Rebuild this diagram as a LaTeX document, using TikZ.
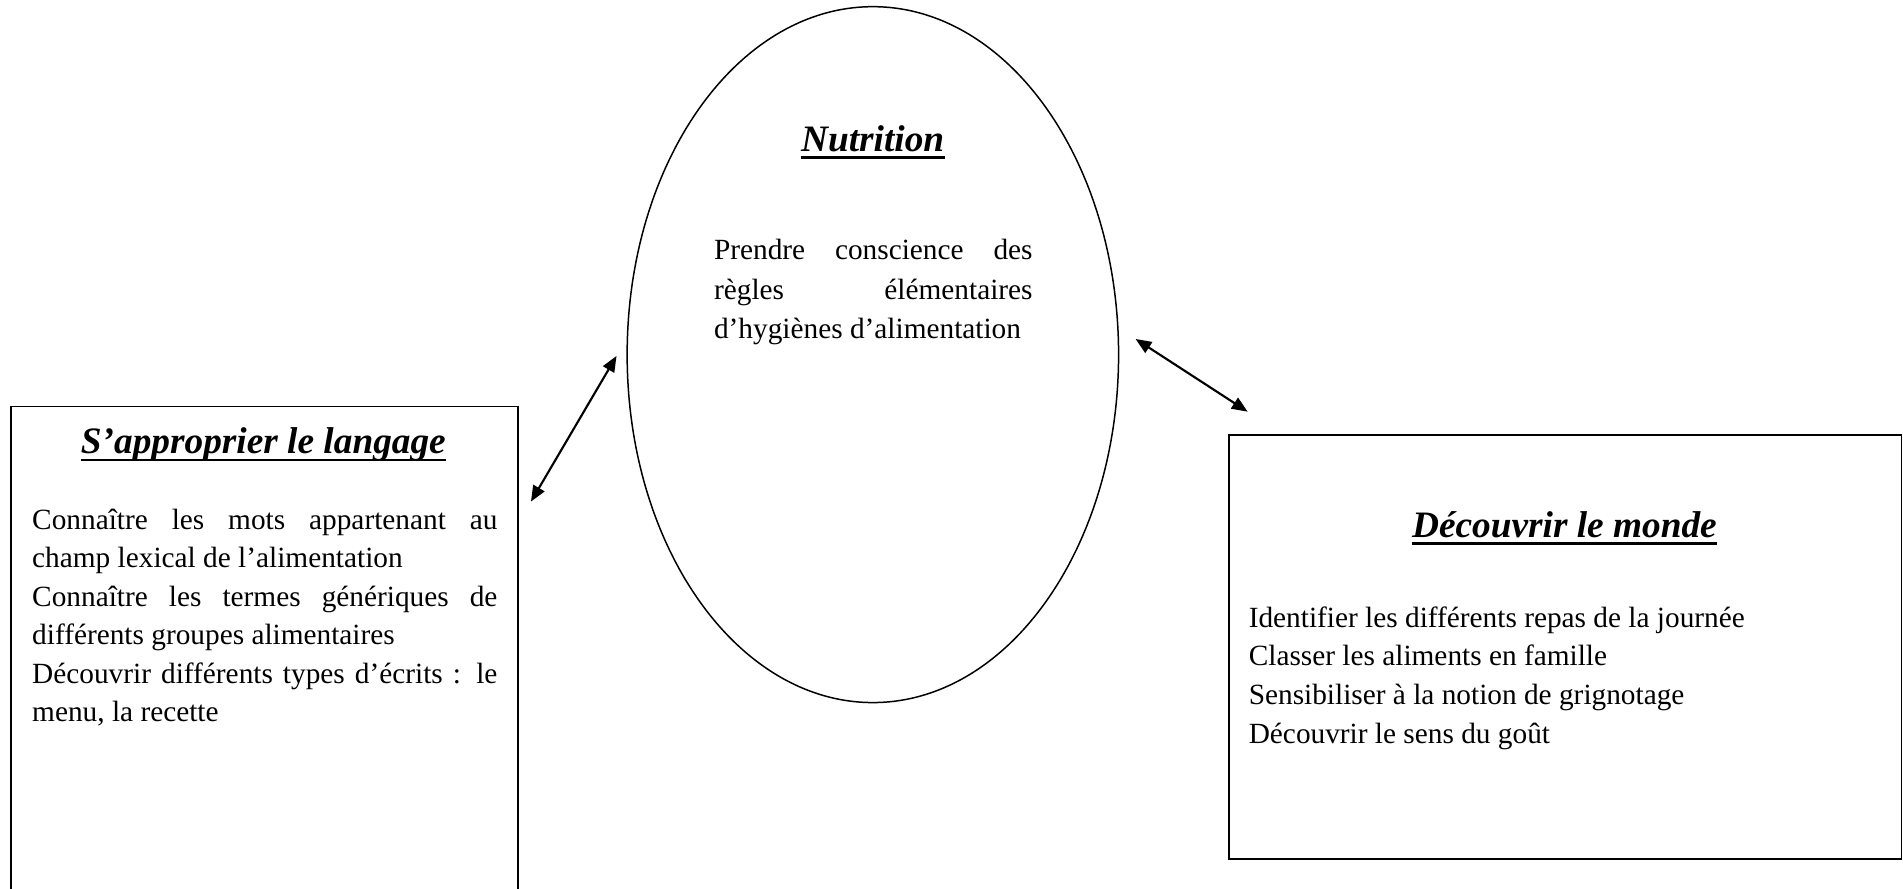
\documentclass[tikz,border=0pt]{standalone}
\usepackage{fontspec}
\setmainfont{Liberation Serif}
\usetikzlibrary{shapes.geometric,arrows.meta}
\tikzset{
  frame/.style={draw, line width=0.7pt, rectangle, inner sep=0pt},
  oval/.style={draw, line width=0.7pt, ellipse, inner sep=0pt},
  titletext/.style={inner sep=0pt, anchor=base, font=\fontsize{17.5pt}{21pt}\selectfont\bfseries\itshape},
  bodytext/.style={inner sep=0pt, anchor=base west, font=\fontsize{13.75pt}{18pt}\selectfont},
  ul/.style={line width=1.25pt},
  dbl/.style={line width=1pt, {Triangle[length=0.26cm,width=0.21cm]}-{Triangle[length=0.26cm,width=0.21cm]}}
}
\newcommand{\justline}[2]{\makebox[#1][s]{#2}}
\begin{document}
\begin{tikzpicture}[x=0.02cm,y=-0.02cm]
\useasboundingbox (0,0) rectangle (1568,731.7);
\fill[white] (0,0) rectangle (1568,731.7);
\clip (0,0) rectangle (1568,731.7);

% shapes
\node[frame, minimum width=8.358cm, minimum height=8.5cm] (lbox) at (218.05,547.5) {};
\node[oval, minimum width=8.1cm, minimum height=11.47cm] (ell) at (719.2,292.2) {};
\node[frame, minimum width=11.086cm, minimum height=6.99cm] (rbox) at (1289.65,533.25) {};

% left box
\node[titletext] (t1) at (217,374) {S’approprier le langage};
\draw[ul] ([yshift=-0.1cm]t1.base west) -- ([yshift=-0.1cm]t1.base east);
\node[bodytext] (l1) at (26.2,436) {\justline{7.668cm}{Connaître les mots appartenant au}};
\node[bodytext] (l2) at (26.2,467.7) {champ lexical de l’alimentation};
\node[bodytext] (l3) at (26.2,499.4) {\justline{7.668cm}{Connaître les termes génériques de}};
\node[bodytext] (l4) at (26.2,531.1) {différents groupes alimentaires};
\node[bodytext] (l5) at (26.2,562.8) {\justline{7.668cm}{Découvrir différents types d’écrits : le}};
\node[bodytext] (l6) at (26.2,594.5) {menu, la recette};

% ellipse
\node[titletext] (t2) at (719,125) {Nutrition};
\draw[ul] ([yshift=-0.1cm]t2.base west) -- ([yshift=-0.1cm]t2.base east);
\node[bodytext] (e1) at (588,213.7) {\justline{5.25cm}{Prendre conscience des}};
\node[bodytext] (e2) at (588,246.4) {\justline{5.25cm}{règles élémentaires}};
\node[bodytext] (e3) at (588,279.1) {d’hygiènes d’alimentation};

% right box
\node[titletext] (t3) at (1289,442.8) {Découvrir le monde};
\draw[ul] ([yshift=-0.1cm]t3.base west) -- ([yshift=-0.1cm]t3.base east);
\node[bodytext] (r1) at (1028.6,516.8) {Identifier les différents repas de la journée};
\node[bodytext] (r2) at (1028.6,548.7) {Classer les aliments en famille};
\node[bodytext] (r3) at (1028.6,580.7) {Sensibiliser à la notion de grignotage};
\node[bodytext] (r4) at (1028.6,612.4) {Découvrir le sens du goût};

% connectors
\coordinate (a1) at (437.5,413.3);
\coordinate (a2) at (508,293.3);
\coordinate (b1) at (935.7,279.3);
\coordinate (b2) at (1028,339.2);
\draw[dbl] (a1) -- (a2);
\draw[dbl] (b1) -- (b2);
\end{tikzpicture}
\end{document}
